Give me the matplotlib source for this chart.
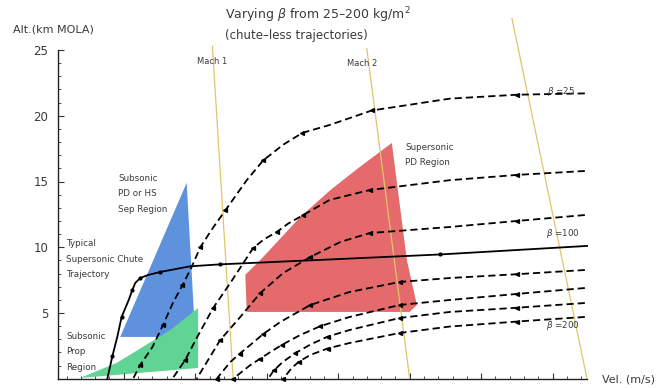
import matplotlib
matplotlib.use("Agg")
import matplotlib.pyplot as plt
from matplotlib.ticker import MultipleLocator, NullFormatter

# ---- data (velocity in m/s, altitude in km MOLA) ----
beta_labels = ["25", "100", "200"]

# chute-less trajectories, beta = 25 ... 200 kg/m^2 (top to bottom)
traj_v = [
    [745, 650, 556, 447, 388, 350, 323, 295, 272, 242, 225, 207, 195, 182, 169, 155, 140, 123, 113],
    [745, 650, 556, 444, 388, 351, 330, 314, 296, 281, 249, 225, 202, 186, 168],
    [745, 650, 556, 444, 403, 361, 323, 291, 263, 235, 202],
    [745, 650, 556, 486, 416, 361, 319, 295, 277, 262, 249, 230],
    [745, 650, 556, 486, 416, 375, 347, 322, 305, 290, 277, 253],
    [745, 650, 556, 486, 416, 385, 361, 340, 323, 310, 302],
    [745, 650, 556, 486, 416, 385, 361, 345, 335, 323],
]
traj_h = [
    [21.7, 21.6, 21.3, 20.4, 19.3, 18.7, 17.8, 16.6, 15.1, 12.8, 11.5, 10.0, 8.5, 7.1, 5.8, 4.1, 2.4, 1.05, 0.0],
    [15.8, 15.5, 15.1, 14.35, 13.6, 12.45, 11.8, 11.16, 10.6, 9.94, 7.28, 5.38, 3.1, 1.43, 0.0],
    [12.45, 12.0, 11.54, 11.08, 10.4, 9.26, 8.04, 6.52, 4.7, 2.95, 0.0],
    [8.27, 7.95, 7.66, 7.36, 6.6, 5.61, 4.32, 3.4, 2.57, 1.9, 1.27, 0.0],
    [6.9, 6.45, 5.99, 5.61, 4.7, 4.0, 3.33, 2.6, 2.03, 1.5, 1.04, 0.0],
    [5.76, 5.4, 5.08, 4.62, 3.71, 3.2, 2.6, 1.95, 1.3, 0.65, 0.0],
    [4.7, 4.35, 3.97, 3.48, 2.72, 2.3, 1.81, 1.3, 0.82, 0.0],
]

# typical supersonic chute trajectory
chute_v = [748, 542, 400, 235, 193, 151, 134, 123, 116, 112, 107, 97, 91, 84, 77]
chute_h = [10.1, 9.45, 9.1, 8.7, 8.55, 8.12, 7.89, 7.66, 7.28, 6.75, 6.0, 4.7, 3.2, 1.7, 0.0]

# Mach lines (end points)
mach_v = [[224, 253], [440, 500], [643, 748]]
mach_h = [[25.3, 0.0], [25.1, 0.0], [27.4, 0.0]]

# regions
blue_v = [188, 200, 95]
blue_h = [14.9, 3.18, 3.18]
green_v = [39, 90, 123, 165, 204, 204]
green_h = [0.06, 1.2, 2.3, 3.7, 5.38, 0.82]
red_v = [270, 291, 347, 389, 430, 475, 496, 510, 500, 272]
red_h = [7.9, 9.03, 12.3, 14.35, 16.1, 17.93, 9.03, 5.61, 5.08, 5.08]

W, H = 669, 388
fig = plt.figure(figsize=(W / 100, H / 100), dpi=100)
ax = fig.add_axes([58 / W, (H - 378.75) / H, 529 / W, 328.75 / H])
ax.set_xlim(8, 748)
ax.set_ylim(0, 25)

TXT = "#3a3a3a"

# shaded regions
ax.fill(blue_v, blue_h, color="#5f92dc", lw=0, zorder=1)
ax.fill(green_v, green_h, color="#5fd494", lw=0, zorder=1.1)
ax.fill(red_v, red_h, color="#e46a6c", lw=0, zorder=1)

# Mach lines
for mv, mh in zip(mach_v, mach_h):
    ax.plot(mv, mh, color="#e3c46c", lw=0.9, zorder=2, clip_on=False)

# trajectories
for tv, th in zip(traj_v, traj_h):
    ax.plot(tv, th, color="black", lw=1.3, dashes=(4, 2.2), zorder=3,
            solid_joinstyle="round", dash_joinstyle="round",
            marker="<", ms=2.8, markevery=(1, 2), clip_on=False)
ax.plot(chute_v, chute_h, color="black", lw=1.3, zorder=3,
        solid_joinstyle="round",
        marker="o", ms=2.0, markevery=(1, 2), clip_on=False)

# axes styling
for s in ("top", "right"):
    ax.spines[s].set_visible(False)
for s in ("left", "bottom"):
    ax.spines[s].set_linewidth(1.0)
    ax.spines[s].set_color("#222222")
ax.yaxis.set_major_locator(MultipleLocator(5))
ax.yaxis.set_minor_locator(MultipleLocator(1))
ax.xaxis.set_major_locator(MultipleLocator(100))
ax.xaxis.set_minor_locator(MultipleLocator(20))
ax.xaxis.set_major_formatter(NullFormatter())
ax.set_yticks([5, 10, 15, 20, 25])
ax.tick_params(axis="both", which="major", direction="in", length=4, width=0.8,
               color="#333333", labelsize=8.5, labelcolor=TXT)
ax.tick_params(axis="both", which="minor", direction="in", length=2.2, width=0.6,
               color="#333333")
ax.tick_params(axis="y", pad=7)

def ftext(px, py, s, **kw):
    kw.setdefault("color", TXT)
    fig.text(px / W, 1 - py / H, s, **kw)

ftext(13, 29, "Alt.(km MOLA)", fontsize=8, va="center", ha="left")
ftext(602, 380, "Vel. (m/s)", fontsize=8, va="center", ha="left")
ftext(225, 15, r"Varying $\beta$ from 25–200 kg/m$^2$", fontsize=9, va="center", ha="left")
ftext(225, 35, "(chute–less trajectories)", fontsize=8.5, va="center", ha="left")

ftext(212, 62, "Mach 1", fontsize=6, va="center", ha="center")
ftext(362, 63, "Mach 2", fontsize=6, va="center", ha="center")

ftext(118, 194, "Subsonic\nPD or HS\nSep Region", fontsize=6.3, va="center",
      ha="left", linespacing=1.9)
ftext(66, 259, "Typical\nSupersonic Chute\nTrajectory", fontsize=6.3, va="center",
      ha="left", linespacing=1.9)
ftext(66, 352, "Subsonic\nProp\nRegion", fontsize=6.3, va="center",
      ha="left", linespacing=1.9)
ftext(405, 155, "Supersonic\nPD Region", fontsize=6.3, va="center",
      ha="left", linespacing=1.9)

ftext(547, 91, r"$\beta$ =" + beta_labels[0], fontsize=6.3, va="center", ha="left")
ftext(546, 233, r"$\beta$ =" + beta_labels[1], fontsize=6.3, va="center", ha="left")
ftext(546, 326, r"$\beta$ =" + beta_labels[2], fontsize=6.3, va="center", ha="left")

fig.savefig("out.png", dpi=100)
